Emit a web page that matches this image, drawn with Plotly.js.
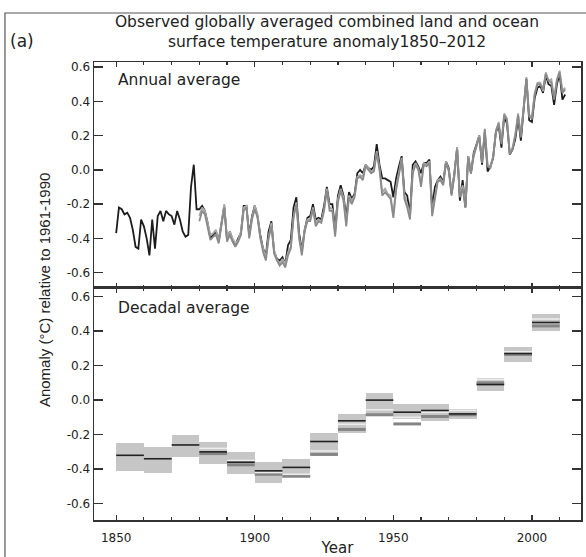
<!DOCTYPE html>
<html>
<head>
<meta charset="utf-8">
<script src="https://cdn.plot.ly/plotly-3.0.1.min.js"></script>
<style>
  html, body { margin: 0; padding: 0; background: #fff; }
  #chart { width: 586px; height: 557px; }
</style>
</head>
<body>
<div id="chart"></div>
<script>
// Annual global mean anomalies (°C, relative to 1961-1990)
const hadYearStart = 1850;
const hadAnnual = [
  -0.37, -0.22, -0.23, -0.26, -0.25, -0.28, -0.35, -0.45, -0.46, -0.29,
  -0.33, -0.40, -0.50, -0.29, -0.46, -0.27, -0.24, -0.30, -0.24, -0.26,
  -0.27, -0.32, -0.24, -0.29, -0.36, -0.39, -0.38, -0.10,  0.03, -0.23,
  -0.23, -0.21, -0.24, -0.31, -0.40, -0.38, -0.36, -0.41, -0.31, -0.21,
  -0.41, -0.36, -0.41, -0.44, -0.40, -0.37, -0.21, -0.21, -0.38, -0.27,
  -0.21, -0.27, -0.38, -0.46, -0.50, -0.36, -0.30, -0.48, -0.52, -0.53,
  -0.51, -0.55, -0.44, -0.41, -0.22, -0.16, -0.37, -0.47, -0.35, -0.28,
  -0.27, -0.20, -0.29, -0.28, -0.29, -0.21, -0.10, -0.20, -0.20, -0.35,
  -0.15, -0.09, -0.15, -0.28, -0.13, -0.17, -0.14, -0.02,  0.00, -0.02,
   0.03,  0.01,  0.00,  0.02,  0.15,  0.03, -0.05, -0.05, -0.06, -0.07,
  -0.16, -0.05,  0.02,  0.08, -0.13, -0.15, -0.26,  0.03,  0.05,  0.02,
  -0.02,  0.04,  0.04,  0.06, -0.22, -0.10, -0.06, -0.04, -0.07,  0.05,
   0.01, -0.14, -0.02,  0.13, -0.18, -0.06, -0.22,  0.08, -0.02,  0.10,
   0.15,  0.20,  0.03,  0.22, -0.01,  0.02,  0.07,  0.22,  0.26,  0.13,
   0.31,  0.27,  0.09,  0.12,  0.18,  0.30,  0.17,  0.36,  0.53,  0.29,
   0.28,  0.42,  0.48,  0.49,  0.45,  0.55,  0.50,  0.49,  0.38,  0.50,
   0.56,  0.41,  0.44
];

const otherYearStart = 1880;
const mlostAnnual = [
  -0.30, -0.24, -0.26, -0.33, -0.41, -0.39, -0.38, -0.43, -0.33, -0.22,
  -0.42, -0.38, -0.42, -0.45, -0.42, -0.38, -0.24, -0.22, -0.40, -0.29,
  -0.23, -0.28, -0.40, -0.48, -0.53, -0.40, -0.33, -0.49, -0.53, -0.56,
  -0.54, -0.57, -0.50, -0.46, -0.28, -0.20, -0.40, -0.50, -0.36, -0.30,
  -0.30, -0.23, -0.33, -0.30, -0.31, -0.24, -0.12, -0.24, -0.24, -0.39,
  -0.19, -0.12, -0.18, -0.33, -0.16, -0.20, -0.16, -0.05, -0.04, -0.06,
   0.02,  0.00, -0.02, -0.01,  0.10,  0.00, -0.15, -0.13, -0.15, -0.17,
  -0.28, -0.12, -0.03,  0.06, -0.17, -0.22, -0.29, -0.02,  0.03,  0.00,
  -0.10,  0.03,  0.02,  0.04, -0.27, -0.16, -0.07, -0.06, -0.09,  0.04,
  -0.01, -0.15, -0.04,  0.12, -0.16, -0.11, -0.22,  0.07, -0.02,  0.08,
   0.14,  0.19,  0.04,  0.24,  0.02,  0.01,  0.07,  0.23,  0.27,  0.15,
   0.32,  0.29,  0.09,  0.12,  0.20,  0.32,  0.19,  0.39,  0.54,  0.31,
   0.30,  0.44,  0.50,  0.50,  0.47,  0.56,  0.52,  0.51,  0.41,  0.52,
   0.57,  0.45,  0.47
];
const gissAnnual = [
  -0.27, -0.22, -0.24, -0.31, -0.38, -0.37, -0.35, -0.42, -0.31, -0.20,
  -0.40, -0.36, -0.40, -0.43, -0.41, -0.36, -0.22, -0.21, -0.39, -0.28,
  -0.21, -0.26, -0.39, -0.46, -0.51, -0.39, -0.31, -0.47, -0.52, -0.55,
  -0.52, -0.55, -0.48, -0.45, -0.27, -0.19, -0.39, -0.48, -0.35, -0.29,
  -0.29, -0.22, -0.31, -0.29, -0.30, -0.23, -0.11, -0.22, -0.23, -0.37,
  -0.17, -0.11, -0.16, -0.31, -0.15, -0.18, -0.15, -0.04, -0.03, -0.04,
   0.03,  0.01, -0.01,  0.00,  0.11,  0.01, -0.13, -0.11, -0.14, -0.15,
  -0.26, -0.10, -0.02,  0.07, -0.15, -0.20, -0.27, -0.01,  0.04,  0.01,
  -0.08,  0.04,  0.03,  0.05, -0.25, -0.14, -0.06, -0.05, -0.08,  0.05,
   0.00, -0.13, -0.03,  0.13, -0.15, -0.09, -0.20,  0.08, -0.01,  0.09,
   0.15,  0.20,  0.05,  0.23,  0.03,  0.02,  0.08,  0.22,  0.28,  0.16,
   0.33,  0.30,  0.10,  0.13,  0.21,  0.33,  0.20,  0.38,  0.53,  0.32,
   0.31,  0.45,  0.51,  0.51,  0.46,  0.57,  0.52,  0.53,  0.42,  0.53,
   0.58,  0.46,  0.48
];

// Decadal means, with the uncertainty range of the main record
const decadeStart = [1850, 1860, 1870, 1880, 1890, 1900, 1910, 1920,
                     1930, 1940, 1950, 1960, 1970, 1980, 1990, 2000];
const hadDecadal = [-0.32, -0.34, -0.26, -0.30, -0.36, -0.41, -0.39, -0.24,
                    -0.12,  0.00, -0.07, -0.06, -0.08,  0.09,  0.27,  0.45];
const hadLow     = [-0.41, -0.42, -0.33, -0.37, -0.43, -0.48, -0.45, -0.32,
                    -0.19, -0.09, -0.11, -0.12, -0.11,  0.05,  0.22,  0.40];
const hadHigh    = [-0.25, -0.27, -0.20, -0.24, -0.30, -0.36, -0.34, -0.19,
                    -0.08,  0.04, -0.02, -0.02, -0.05,  0.13,  0.31,  0.50];

const otherDecadeStart = [1880, 1890, 1900, 1910, 1920, 1930, 1940,
                          1950, 1960, 1970, 1980, 1990, 2000];
const mlostDecadal = [-0.31, -0.375, -0.43, -0.44, -0.315, -0.17, -0.085,
                      -0.138, -0.095, -0.085, 0.10, 0.265, 0.43];
const gissDecadal  = [-0.28, -0.35, -0.42, -0.43, -0.295, -0.14, -0.056,
                      -0.10, -0.07, -0.06, 0.12, 0.28, 0.47];

const yTickVals = [-0.6, -0.4, -0.2, 0, 0.2, 0.4, 0.6];
const yTickText = ['-0.6', '-0.4', '-0.2', '0.0', '0.2', '0.4', '0.6'];
const xTickVals = [1850, 1900, 1950, 2000];

const titleText = 'Observed globally averaged combined land and ocean<br>surface temperature anomaly1850–2012';

// ---- helpers ----
function yearsFrom(start, n) {
  const out = [];
  for (let i = 0; i < n; i++) out.push(start + i);
  return out;
}
// one horizontal segment per decade, separated by gaps
function decadeSegments(starts, vals) {
  const x = [], y = [];
  starts.forEach((s, i) => {
    x.push(s, s + 10, null);
    y.push(vals[i], vals[i], null);
  });
  return { x, y };
}

const FONT = 'DejaVu Sans, Verdana, sans-serif';
const INK = '#333';

const traces = [];

// Decadal panel: uncertainty boxes
traces.push({
  type: 'bar',
  x: decadeStart.map(d => d + 5),
  y: hadHigh.map((h, i) => h - hadLow[i]),
  base: hadLow,
  width: 10,
  marker: { color: '#c6c6c6', line: { width: 0 } },
  xaxis: 'x', yaxis: 'y',
  hoverinfo: 'skip'
});
const segM = decadeSegments(otherDecadeStart, mlostDecadal);
traces.push({ type: 'scatter', mode: 'lines', x: segM.x, y: segM.y,
  line: { color: '#858585', width: 3 }, xaxis: 'x', yaxis: 'y', connectgaps: false });
const segG = decadeSegments(otherDecadeStart, gissDecadal);
traces.push({ type: 'scatter', mode: 'lines', x: segG.x, y: segG.y,
  line: { color: '#ececec', width: 1.6 }, xaxis: 'x', yaxis: 'y', connectgaps: false });
const segH = decadeSegments(decadeStart, hadDecadal);
traces.push({ type: 'scatter', mode: 'lines', x: segH.x, y: segH.y,
  line: { color: '#222', width: 1.6 }, xaxis: 'x', yaxis: 'y', connectgaps: false });

// Annual panel
traces.push({ type: 'scatter', mode: 'lines',
  x: yearsFrom(hadYearStart, hadAnnual.length), y: hadAnnual,
  line: { color: '#1c1c1c', width: 1.8 }, xaxis: 'x2', yaxis: 'y2' });
traces.push({ type: 'scatter', mode: 'lines',
  x: yearsFrom(otherYearStart, gissAnnual.length), y: gissAnnual,
  line: { color: '#a8a8a8', width: 1.8 }, xaxis: 'x2', yaxis: 'y2' });
traces.push({ type: 'scatter', mode: 'lines',
  x: yearsFrom(otherYearStart, mlostAnnual.length), y: mlostAnnual,
  line: { color: '#8a8a8a', width: 1.8 }, xaxis: 'x2', yaxis: 'y2' });

const xCommon = {
  range: [1842, 2017.7],
  tickmode: 'array', tickvals: xTickVals,
  ticks: 'inside', ticklen: 5, tickwidth: 1.3, tickcolor: INK,
  minor: { tickmode: 'linear', tick0: 1850, dtick: 10, ticks: 'inside', ticklen: 3, tickwidth: 1.2, tickcolor: INK },
  showline: true, linecolor: INK, linewidth: 1.5, mirror: 'ticks',
  showgrid: false, zeroline: false,
  tickfont: { family: FONT, size: 12, color: '#222' },
  fixedrange: true
};
const yCommon = {
  tickmode: 'array', tickvals: yTickVals, ticktext: yTickText,
  ticks: 'inside', ticklen: 9, tickwidth: 1.3, tickcolor: INK,
  showline: true, linecolor: INK, linewidth: 1.5, mirror: 'ticks',
  showgrid: false, zeroline: false,
  tickfont: { family: FONT, size: 12, color: '#222' },
  fixedrange: true
};

const SPLIT = 0.5066;

const layout = {
  width: 586, height: 557,
  margin: { l: 94, r: 5, t: 62, b: 37 },
  paper_bgcolor: '#fff', plot_bgcolor: '#fff',
  showlegend: false,
  bargap: 0,
  font: { family: FONT, color: '#222' },
  title: {
    text: titleText,
    font: { family: FONT, size: 15.5, color: '#222' },
    x: 0.558, xref: 'container', xanchor: 'center',
    y: 0.952, yref: 'container', yanchor: 'top'
  },
  xaxis: Object.assign({}, xCommon, {
    anchor: 'y', domain: [0, 1], ticklabelstandoff: 6,
    title: { text: 'Year', font: { family: FONT, size: 15, color: '#222' }, standoff: 2 }
  }),
  xaxis2: Object.assign({}, xCommon, {
    anchor: 'y2', matches: 'x', showticklabels: false
  }),
  yaxis: Object.assign({}, yCommon, { domain: [0, SPLIT], range: [-0.695, 0.65], anchor: 'x' }),
  yaxis2: Object.assign({}, yCommon, { domain: [SPLIT, 1], range: [-0.69, 0.63], anchor: 'x2' }),
  annotations: [
    { text: 'Annual average', xref: 'paper', yref: 'paper',
      x: 0.045, y: 0.9607, xanchor: 'left', yanchor: 'middle', showarrow: false,
      font: { family: FONT, size: 15.5, color: '#222' } },
    { text: 'Decadal average', xref: 'paper', yref: 'paper',
      x: 0.045, y: 0.463, xanchor: 'left', yanchor: 'middle', showarrow: false,
      font: { family: FONT, size: 15.5, color: '#222' } },
    { text: 'Anomaly (°C) relative to 1961-1990', xref: 'paper', yref: 'paper',
      x: -0.1027, y: 0.502, xanchor: 'center', yanchor: 'middle', textangle: -90, showarrow: false,
      font: { family: 'Liberation Sans, Arial, sans-serif', size: 15, color: '#222' } },
    { text: '(a)', xref: 'paper', yref: 'paper',
      x: -0.1766, y: 1.0459, xanchor: 'left', yanchor: 'middle', showarrow: false,
      font: { family: FONT, size: 17, color: '#222' } }
  ],
  shapes: [
    { type: 'rect', xref: 'paper', yref: 'paper',
      x0: -0.1828, x1: 1.05, y0: -0.12, y1: 1.107,
      line: { color: '#555', width: 1.2 }, fillcolor: 'rgba(0,0,0,0)', layer: 'below' }
  ]
};

Plotly.newPlot('chart', traces, layout, { displayModeBar: false, staticPlot: true });
</script>
</body>
</html>
